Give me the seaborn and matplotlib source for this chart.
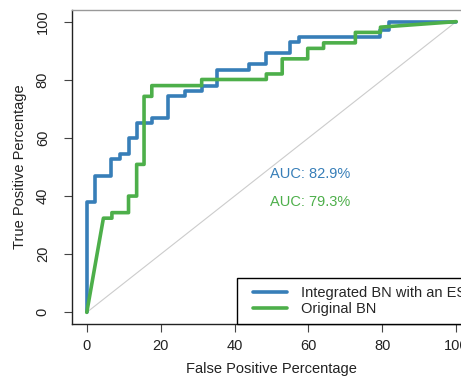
import numpy as np
import pandas as pd
import seaborn as sns
import matplotlib
matplotlib.use("Agg")
import matplotlib.pyplot as plt
from matplotlib.lines import Line2D
from matplotlib.legend_handler import HandlerLine2D

# ROC curve vertices (false positive %, true positive %)
esn_fpr = [0, 0, 2.2, 2.2, 6.5, 6.5, 8.9, 8.9, 11.3, 11.3, 13.5, 13.5, 17.7, 17.7,
           22.1, 22.1, 26.5, 26.5, 31.3, 31.3, 35.3, 35.3, 44, 44, 48.6, 48.6,
           55.1, 55.1, 57.4, 57.4, 79.5, 79.5, 81.7, 81.7, 100]
esn_tpr = [0, 38, 38, 47, 47, 52.6, 52.6, 54.3, 54.3, 60, 60, 65.3, 65.3, 67,
           67, 74.3, 74.3, 76.3, 76.3, 78, 78, 83.5, 83.5, 85.5, 85.5, 89.2,
           89.2, 92.9, 92.9, 94.8, 94.8, 97, 97, 100, 100]

orig_fpr = [0, 4.5, 6.8, 6.8, 11.3, 11.3, 13.5, 13.5, 15.5, 15.5, 17.6, 17.6,
            31.1, 31.1, 48.6, 48.6, 52.9, 52.9, 59.8, 59.8, 64.1, 64.1, 72.7,
            72.7, 79.5, 79.5, 100]
orig_tpr = [0, 32.4, 32.4, 34.3, 34.3, 40, 40, 50.9, 50.9, 74.3, 74.3, 78,
            78, 80.1, 80.1, 82, 82, 87.2, 87.2, 90.8, 90.8, 92.7, 92.7,
            96.3, 96.3, 98.1, 100]

labels = ["Integrated BN with an ES", "Original BN"]
auc_text = ["AUC: 82.9%", "AUC: 79.3%"]
colors = ["#377EB8", "#4DAF4A"]
ticks = [0, 20, 40, 60, 80, 100]

df = pd.concat([
    pd.DataFrame({"fpr": esn_fpr, "tpr": esn_tpr, "model": labels[0]}),
    pd.DataFrame({"fpr": orig_fpr, "tpr": orig_tpr, "model": labels[1]}),
], ignore_index=True)

sns.set_style("white")
plt.rcParams["font.family"] = ["Liberation Sans", "DejaVu Sans"]

fig = plt.figure(figsize=(4.61, 3.76), dpi=100)
ax = fig.add_axes([72 / 461, 52 / 376, 399 / 461, 314 / 376])

# chance diagonal
ax.plot([0, 100], [0, 100], color="#CCCCCC", lw=0.8, zorder=1)

sns.lineplot(data=df, x="fpr", y="tpr", hue="model", palette=colors,
             sort=False, estimator=None, lw=2.6, ax=ax, zorder=3)

ax.set_xlim(-4, 104)
ax.set_ylim(-4, 104)
ax.set_xticks(ticks)
ax.set_yticks(ticks)
ax.tick_params(axis="both", direction="out", length=6, width=0.8,
               color="#444444", labelsize=10.5, labelcolor="#222222",
               bottom=True, left=True)
ax.tick_params(axis="x", pad=5)
ax.tick_params(axis="y", pad=10)
for lab in ax.get_yticklabels():
    lab.set_rotation(90)
    lab.set_va("center")

ax.set_xlabel("False Positive Percentage", fontsize=10.5, labelpad=6, color="#222222")
ax.set_ylabel("True Positive Percentage", fontsize=10.5, labelpad=6, color="#222222")

for s in ["left", "bottom"]:
    ax.spines[s].set_color("#222222")
    ax.spines[s].set_linewidth(1.0)
ax.spines["top"].set_color("#999999")
ax.spines["top"].set_linewidth(1.0)
ax.spines["right"].set_visible(False)

ax.text(49.5, 47.5, auc_text[0], color=colors[0], fontsize=10.5, va="center")
ax.text(49.5, 38, auc_text[1], color=colors[1], fontsize=10.5, va="center")

leg = ax.legend(loc="lower left", bbox_to_anchor=((237 - 72) / 399, 0),
                frameon=True, fancybox=False, fontsize=10.5, handlelength=3.4,
                handletextpad=0.45, borderpad=0.55, labelspacing=0.15,
                borderaxespad=0,
                handler_map={Line2D: HandlerLine2D(marker_pad=0.55, numpoints=2)})
leg.get_frame().set_edgecolor("black")
leg.get_frame().set_linewidth(1.0)
leg.get_frame().set_alpha(1)
for line in leg.get_lines():
    line.set_linewidth(2.6)

fig.savefig("out.png", dpi=100)
